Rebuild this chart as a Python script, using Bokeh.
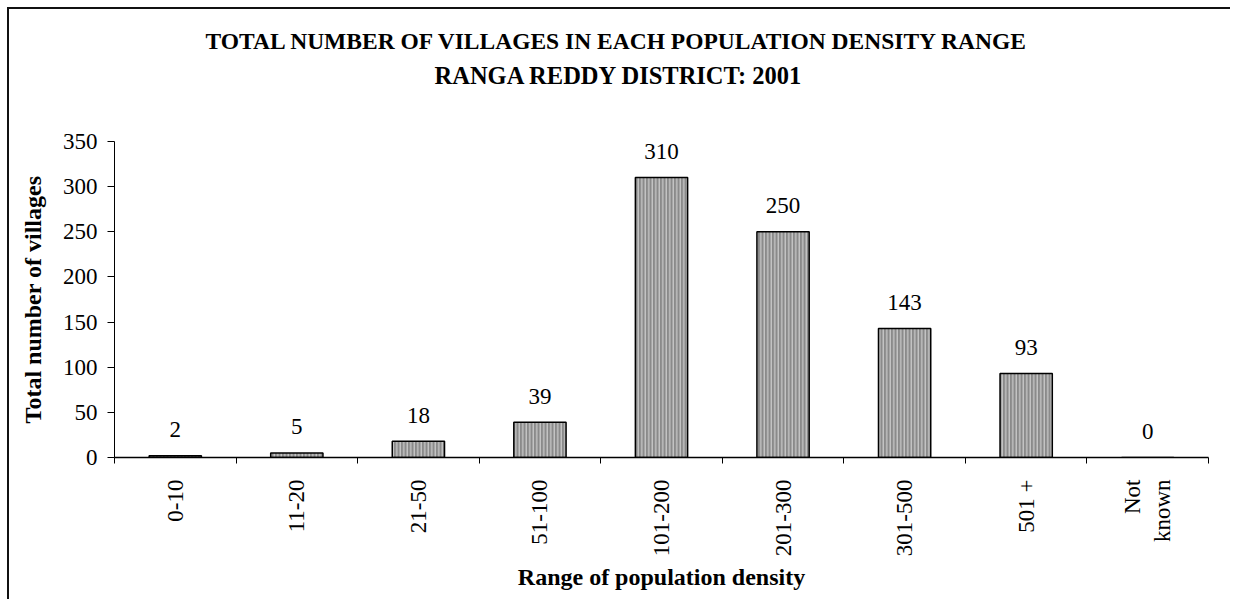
import math
from bokeh.plotting import figure
from bokeh.models import (Range1d, FixedTicker, ColumnDataSource, LabelSet, Title)
from bokeh.embed import file_html
from bokeh.resources import INLINE

categories = ["0-10", "11-20", "21-50", "51-100", "101-200", "201-300", "301-500", "501 +", "Not\nknown"]
villages = [2, 5, 18, 39, 310, 250, 143, 93, 0]
y_ticks = [0, 50, 100, 150, 200, 250, 300, 350]
title_lines = ["TOTAL NUMBER OF VILLAGES IN EACH POPULATION DENSITY RANGE",
               "RANGA REDDY DISTRICT: 2001"]
x_title = "Range of population density"
y_title = "Total number of villages"

FONT = "Liberation Serif"

n = len(categories)
centers = [i + 0.5 for i in range(n)]
source = ColumnDataSource(dict(x=centers, top=villages, label=[str(v) for v in villages]))

p = figure(width=1223, height=592, output_backend="svg", toolbar_location=None,
           x_range=Range1d(0, n), y_range=Range1d(0, 350),
           min_border_left=105, min_border_right=24, min_border_top=132, min_border_bottom=144)
p.styles = {"margin-left": "7px", "margin-top": "7px",
            "border-top": "2px solid #111", "border-left": "2px solid #111"}
p.outline_line_color = None
p.xgrid.visible = False
p.ygrid.visible = False
p.background_fill_color = "white"
p.border_fill_color = "white"
p.title.visible = False

p.vbar(x="x", top="top", width=0.43, source=source,
       fill_color="#8a8a8a", line_color="black", line_width=1.5,
       hatch_pattern="vertical_line", hatch_color="white", hatch_scale=3.5,
       hatch_weight=1, hatch_alpha=0.7)

labels = LabelSet(x="x", y="top", text="label", source=source, y_offset=26,
                  text_align="center", text_baseline="middle",
                  text_font=FONT, text_font_size="23px", text_color="black")
p.add_layout(labels)

# x axis
xa = p.xaxis[0]
xa.ticker = FixedTicker(ticks=centers, minor_ticks=list(range(n + 1)))
xa.major_label_overrides = {c: lab for c, lab in zip(centers, categories)}
xa.major_label_orientation = math.pi / 2
xa.major_tick_out = 0
xa.major_tick_in = 0
xa.minor_tick_out = 6
xa.minor_tick_in = 0
xa.major_label_standoff = 16
xa.major_label_text_font = FONT
xa.major_label_text_font_size = "23px"
xa.major_label_text_color = "black"
xa.axis_line_color = "black"
xa.axis_line_width = 1.5
xa.minor_tick_line_color = "black"
xa.axis_label = x_title
xa.axis_label_text_font = FONT
xa.axis_label_text_font_style = "bold"
xa.axis_label_text_font_size = "24px"
xa.axis_label_text_color = "black"
xa.axis_label_standoff = 5

# y axis
ya = p.yaxis[0]
ya.ticker = FixedTicker(ticks=y_ticks, minor_ticks=[])
ya.major_tick_out = 7
ya.major_tick_in = 0
ya.major_label_standoff = 10
ya.major_label_text_font = FONT
ya.major_label_text_font_size = "23px"
ya.major_label_text_color = "black"
ya.axis_line_color = "black"
ya.axis_line_width = 1
ya.major_tick_line_color = "black"
ya.axis_label = y_title
ya.axis_label_text_font = FONT
ya.axis_label_text_font_style = "bold"
ya.axis_label_text_font_size = "24px"
ya.axis_label_text_color = "black"
ya.axis_label_standoff = 14

# above panels, from the plot outward: blank spacer, second title line, first title line
p.add_layout(Title(text=" ", standoff=22, text_font=FONT, text_font_size="23.5px"), "above")
p.add_layout(Title(text=title_lines[1], align="left", offset=320, standoff=6,
                   text_font=FONT, text_font_style="bold", text_font_size="24.5px",
                   text_color="black"), "above")
p.add_layout(Title(text=title_lines[0], align="left", offset=91, standoff=6,
                   text_font=FONT, text_font_style="bold", text_font_size="23.5px",
                   text_color="black"), "above")

open("out.html", "w").write(file_html(p, INLINE))
